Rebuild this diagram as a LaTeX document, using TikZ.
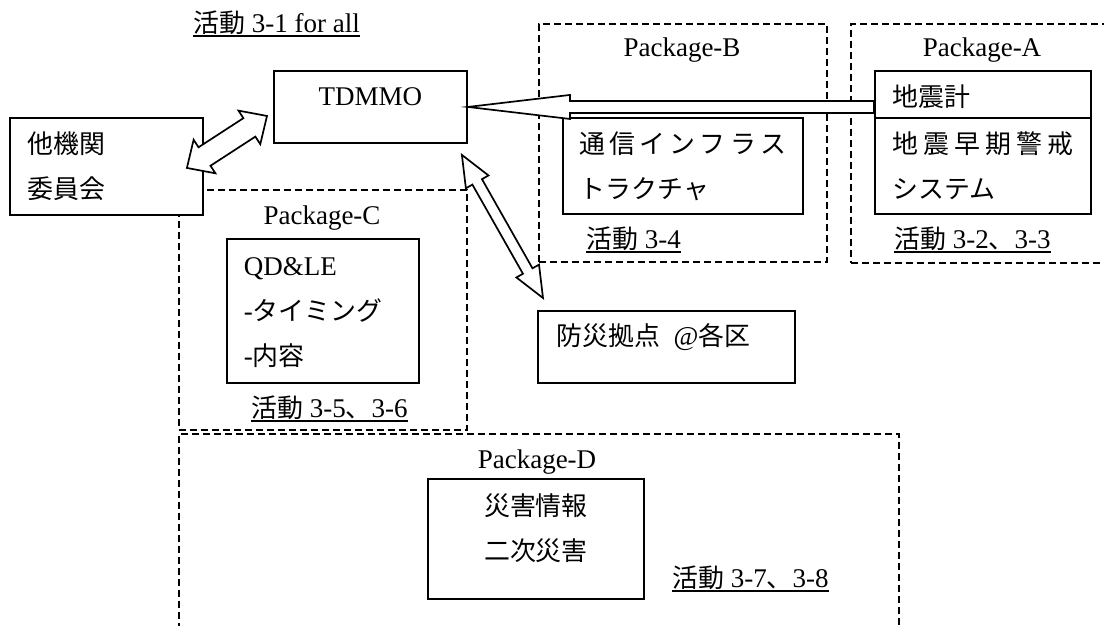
\documentclass[tikz,border=0pt]{standalone}
\usepackage{fontspec}
\setmainfont{Liberation Serif}
\newfontfamily\jp[Scale=0.96]{Noto Sans CJK JP}
\usetikzlibrary{calc}
\newcommand\J[1]{{\jp #1}}
\newcommand\spread[2]{\makebox[#1][s]{#2}}
\newcommand\dblarrow[5]{%
  \coordinate (#1-h) at ($(#1)!#3!(#2)$);
  \coordinate (#2-h) at ($(#2)!#3!(#1)$);
  \draw[fat] (#1) -- ($(#1-h)!#4!90:(#2)$) -- ($(#1-h)!#5!90:(#2)$) -- ($(#2-h)!#5!-90:(#1)$) -- ($(#2-h)!#4!-90:(#1)$) -- (#2) -- ($(#2-h)!#4!90:(#1)$) -- ($(#2-h)!#5!90:(#1)$) -- ($(#1-h)!#5!-90:(#2)$) -- ($(#1-h)!#4!-90:(#2)$) -- cycle;}
\begin{document}
\begin{tikzpicture}[x=1pt,y=-1pt,
  font=\fontsize{27}{45}\selectfont,
  box/.style={draw, line width=1.9pt, fill=white, inner ysep=0pt, anchor=north west},
  pkg/.style={draw, dash pattern=on 7pt off 4pt, line width=1.6pt, inner sep=0pt, anchor=north west},
  lbl/.style={inner sep=0pt, anchor=base},
  act/.style={inner sep=0pt, anchor=base west, append after command={([yshift=-3.5pt]\tikzlastnode.base west) edge[line width=2pt] ([yshift=-3.5pt]\tikzlastnode.base east)}},
  fat/.style={draw, fill=white, line width=1.7pt, line join=miter}]
\useasboundingbox (0,0) rectangle (1104,625);

% package areas
\node[pkg, minimum width=288pt, minimum height=238pt] (pkgB) at (538,23) {};
\node[pkg, minimum width=290pt, minimum height=239pt] (pkgA) at (850,23) {};
\node[pkg, minimum width=288pt, minimum height=240pt] (pkgC) at (178,189) {};
\node[pkg, minimum width=720pt, minimum height=230pt] (pkgD) at (178,433) {};

\node[lbl] (pkgBl) at (682,56) {Package-B};
\node[lbl] (pkgAl) at (982,56) {Package-A};
\node[lbl] (pkgCl) at (322,224) {Package-C};
\node[lbl] (pkgDl) at (537,468) {Package-D};

% activity labels
\node[act] (act1) at (193,32) {\J{活動} 3-1 for all};
\node[act] (act4) at (586,248) {\J{活動} 3-4};
\node[act] (act23) at (894,248) {\J{活動} 3-2\J{、}3-3};
\node[act] (act56) at (251,417) {\J{活動} 3-5\J{、}3-6};
\node[act] (act78) at (672,587) {\J{活動} 3-7\J{、}3-8};

% boxes
\node[box, inner xsep=18pt] (ota) at (9,117) {\parbox[c][97pt][t]{157pt}{\raggedright\jp\rule{0pt}{36pt}他機関\\委員会}};
\node[box, inner xsep=0pt] (tdmmo) at (273,70) {\parbox[c][72pt][t]{193pt}{\centering\rule{0pt}{35pt}TDMMO}};
\node[box, inner xsep=18pt] (seismo) at (874,70) {\parbox[c][47pt][t]{180pt}{\raggedright\jp\rule{0pt}{36pt}地震計}};
\node[box, inner xsep=18pt] (eew) at (874,117) {\parbox[c][96pt][t]{180pt}{\raggedright\jp\rule{0pt}{36pt}\spread{180pt}{地\hfill 震\hfill 早\hfill 期\hfill 警\hfill 戒}\\システム}};
\node[box, inner xsep=17pt] (comm) at (562,117) {\parbox[c][96pt][t]{206pt}{\raggedright\jp\rule{0pt}{36pt}\spread{206pt}{通\hfill 信\hfill イ\hfill ン\hfill フ\hfill ラ\hfill ス}\\トラクチャ}};
\node[box, inner xsep=17pt] (qd) at (226,238) {\parbox[c][144pt][t]{158pt}{\raggedright\rule{0pt}{37pt}QD\&LE\\-\J{タイミング}\\-\J{内容}}};
\node[box, inner xsep=19pt] (bousai) at (537,310) {\parbox[c][72pt][t]{219pt}{\raggedright\rule{0pt}{35pt}\J{防災拠点}\hspace{13pt}@\J{各区}}};
\node[box, inner xsep=0pt] (saigai) at (427,478) {\parbox[c][120pt][t]{216pt}{\centering\jp\rule{0pt}{37pt}災害情報\\二次災害}};

% arrows
\coordinate (r1a) at ($(ota.east)+(-17,1.5)$);
\coordinate (r1b) at ($(tdmmo.west)+(-6,9)$);
\dblarrow{r1a}{r1b}{21pt}{20pt}{11pt}

\coordinate (r2a) at ($(tdmmo.south east)+(-6,11)$);
\coordinate (r2b) at ($(bousai.north west)+(6,-12)$);
\dblarrow{r2a}{r2b}{31pt}{13pt}{5.5pt}

\coordinate (r3a) at (tdmmo.east);
\coordinate (r3b) at ($(seismo.west)+(0,12.5)$);
\coordinate (r3h) at ($(r3a)!102pt!(r3b)$);
\draw[fat] (r3a) -- ($(r3h)!12pt!90:(r3b)$) -- ($(r3h)!6pt!90:(r3b)$) -- ($(r3b)!6pt!-90:(r3a)$) -- ($(r3b)!6pt!90:(r3a)$) -- ($(r3h)!6pt!-90:(r3b)$) -- ($(r3h)!12pt!-90:(r3b)$) -- cycle;
\end{tikzpicture}
\end{document}
